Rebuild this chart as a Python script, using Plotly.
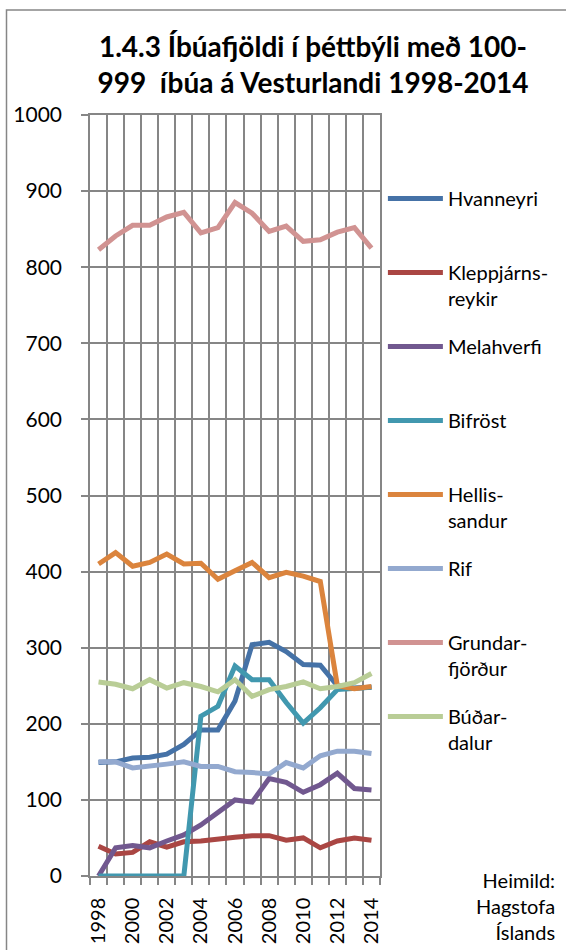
import plotly.graph_objects as go

years = list(range(1998, 2015))

names = ["Hvanneyri", "Kleppjárnsreykir", "Melahverfi", "Bifröst",
         "Hellissandur", "Rif", "Grundarfjörður", "Búðardalur"]
legend_labels = ["Hvanneyri<br> ", "Kleppjárns-<br>reykir", "Melahverfi<br> ",
                 "Bifröst<br> ", "Hellis-<br>sandur", "Rif<br> ",
                 "Grundar-<br>fjörður", "Búðar-<br>dalur"]

hvanneyri = [149, 150, 155, 156, 160, 173, 192, 192, 230, 304, 307, 295, 278, 277, 250, 247, 248]
kleppjarnsreykir = [39, 29, 31, 45, 38, 45, 46, 49, 51, 53, 53, 47, 50, 37, 46, 50, 47]
melahverfi = [0, 37, 40, 37, 46, 54, 67, 83, 100, 97, 128, 123, 110, 120, 135, 115, 113]
bifrost = [0, 0, 0, 0, 0, 0, 210, 223, 276, 258, 258, 228, 201, 221, 245, 247, 248]
hellissandur = [410, 425, 407, 412, 423, 410, 411, 390, 401, 412, 392, 399, 394, 387, 250, 246, 249]
rif = [150, 150, 142, 144, 147, 150, 144, 144, 137, 136, 134, 149, 142, 158, 164, 164, 161]
grundarfjordur = [823, 841, 855, 855, 866, 872, 845, 852, 885, 871, 847, 854, 834, 836, 846, 852, 825]
budardalur = [255, 252, 246, 258, 247, 254, 249, 242, 258, 236, 245, 249, 255, 246, 249, 254, 266]

series = [hvanneyri, kleppjarnsreykir, melahverfi, bifrost,
          hellissandur, rif, grundarfjordur, budardalur]
colors = ["#4572A7", "#AA4643", "#71588F", "#4198AF",
          "#DB843D", "#93A9CF", "#D19392", "#B9CD96"]

y_ticks = list(range(0, 1001, 100))
x_ticks = list(range(1998, 2015, 2))

FONT = "Lato"
GRID = "#868686"

fig = go.Figure()
for name, lab, vals, col in zip(names, legend_labels, series, colors):
    fig.add_trace(go.Scatter(
        x=years, y=vals, mode="lines", name=lab, legendgroup=name,
        line=dict(color=col, width=5),
        hovertemplate=name + " %{x}: %{y}<extra></extra>",
    ))

fig.update_layout(
    width=566, height=950,
    margin=dict(l=90, r=186, t=115, b=74, autoexpand=False),
    paper_bgcolor="white", plot_bgcolor="white",
    font=dict(family=FONT, size=20, color="black"),
    title=dict(
        text="<b>1.4.3 Íbúafjöldi í þéttbýli með 100-<br>999  íbúa á Vesturlandi 1998-2014</b>",
        x=313 / 566, xanchor="center", xref="container",
        y=1 - 57 / 950, yanchor="top", yref="container",
        font=dict(family=FONT, size=28, color="black"),
    ),
    showlegend=True,
    legend=dict(
        x=1.010, xanchor="left", y=0.916, yanchor="top",
        font=dict(family=FONT, size=20, color="black"),
        valign="top", tracegroupgap=19, itemwidth=55,
        bgcolor="rgba(0,0,0,0)", borderwidth=0,
    ),
    xaxis=dict(
        range=[1997.5, 2014.5], tickmode="array", tickvals=x_ticks,
        ticktext=[str(v) for v in x_ticks], tickangle=-90, ticks="",
        showgrid=False, zeroline=False, automargin=False,
        showline=True, mirror=True, linecolor=GRID, linewidth=1.5,
        tickfont=dict(family=FONT, size=20, color="black"),
        ticklabelstandoff=12,
        minor=dict(tick0=1997.5, dtick=1, showgrid=True, gridcolor=GRID,
                   gridwidth=1.5, ticks="outside", ticklen=7, tickcolor=GRID,
                   tickwidth=1.5),
    ),
    yaxis=dict(
        range=[0, 1000], tickmode="array", tickvals=y_ticks,
        ticks="outside", ticklen=7, tickcolor=GRID, tickwidth=1.5,
        showgrid=True, gridcolor=GRID, gridwidth=1.5, zeroline=False,
        automargin=False,
        showline=True, mirror=True, linecolor=GRID, linewidth=1.5,
        tickfont=dict(family=FONT, size=21, color="black"),
        ticklabelstandoff=15,
    ),
    annotations=[dict(
        text="Heimild:<br>Hagstofa<br>Íslands", xref="paper", yref="paper",
        x=(557 - 90) / 290, xanchor="right", y=10 / 761, yanchor="top",
        align="right", showarrow=False,
        font=dict(family=FONT, size=20, color="black"),
    )],
    shapes=[dict(type="rect", xref="paper", yref="paper",
                 x0=(6.5 - 90) / 290, x1=(580 - 90) / 290,
                 y0=(876 - 960) / 761, y1=(876 - 10) / 761,
                 line=dict(color=GRID, width=1.5), layer="below")],
)

fig.write_html(
    "out.html",
    config={"displayModeBar": False},
    post_script="document.body.style.margin='0';"
                "document.documentElement.style.overflow='hidden';",
)
